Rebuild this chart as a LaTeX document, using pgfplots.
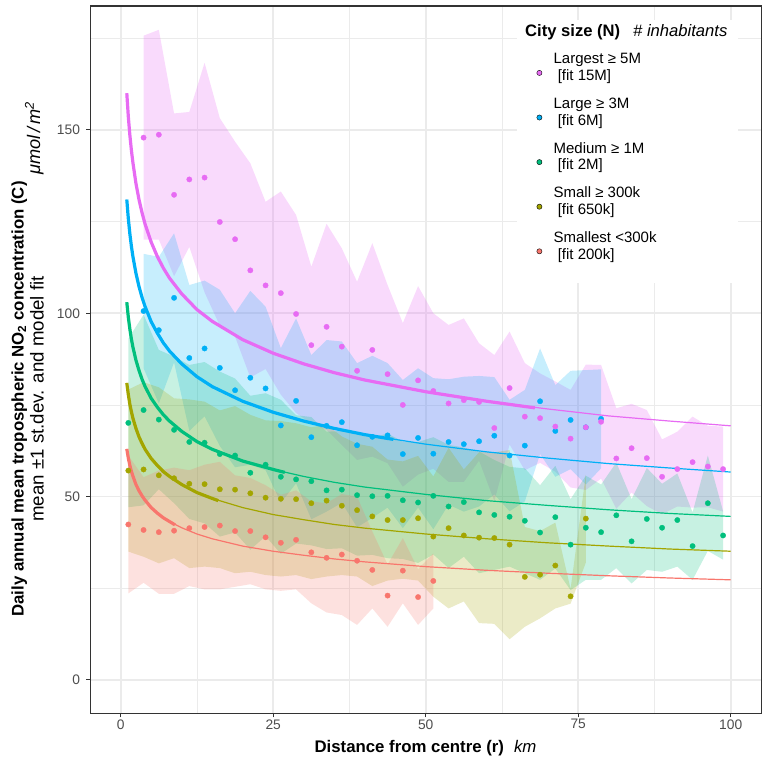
\documentclass[border=0pt]{standalone}
\usepackage{fontspec}
\setmainfont{Liberation Sans}
\usepackage{pgfplots}
\pgfplotsset{compat=1.18}
\usepackage{pgfplotstable}
\usepgfplotslibrary{fillbetween}

\definecolor{cLargest}{HTML}{E76BF3}
\definecolor{cLarge}{HTML}{00B0F6}
\definecolor{cMedium}{HTML}{00BF7D}
\definecolor{cSmall}{HTML}{A3A500}
\definecolor{cSmallest}{HTML}{F8766D}
\definecolor{gridc}{HTML}{EBEBEB}
\definecolor{framec}{HTML}{333333}
\definecolor{ticktext}{HTML}{4D4D4D}

% binned means (m) and standard deviations (s) by distance from centre
\pgfplotstableread{
x m s
3.75 147.9 27.8
6.25 148.7 28.6
8.75 132.3 22.2
11.25 136.5 18.4
13.75 137.0 31.3
16.25 124.9 28.3
18.75 120.2 26.6
21.25 111.7 29.2
23.75 107.6 22.8
26.25 105.5 27.7
28.75 99.8 27.0
31.25 91.3 21.4
33.75 96.3 28.1
36.25 90.9 26.8
38.75 84.3 24.3
41.25 90.0 29.1
43.75 83.4 24.3
46.25 75.0 22.3
48.75 81.7 25.7
51.25 78.8 21.2
53.75 75.4 21.4
56.25 76.3 22.3
58.75 75.8 16.0
61.25 68.7 19.9
63.75 79.6 15.4
66.25 71.8 14.6
68.75 71.4 12.2
71.25 69.1 12.3
73.75 65.8 13.3
76.25 68.9 17.1
78.75 70.4 15.5
81.25 60.4 13.7
83.75 63.2 12.1
86.25 60.5 13.1
88.75 55.4 10.2
91.25 57.5 10.2
93.75 59.4 12.4
96.25 58.2 11.1
98.75 57.5 11.6
}\tLargest

\pgfplotstableread{
x m s
3.75 100.6 15.6
6.25 95.4 20.0
8.75 104.2 17.6
11.25 87.8 19.9
13.75 90.4 18.5
16.25 85.1 21.3
18.75 79.0 21.0
21.25 82.4 23.7
23.75 79.5 22.3
26.25 69.4 21.1
28.75 76.1 22.5
31.25 66.2 22.4
33.75 69.3 23.4
36.25 70.3 22.0
38.75 64.0 22.4
41.25 66.3 22.1
43.75 66.7 19.7
46.25 61.6 20.2
48.75 66.0 19.0
51.25 61.7 20.6
53.75 64.9 17.1
56.25 64.3 18.4
58.75 65.1 17.8
61.25 66.6 16.0
63.75 61.2 15.2
66.25 63.9 15.2
68.75 76.0 14.4
71.25 67.9 12.5
73.75 70.9 13.4
76.25 68.9 15.6
78.75 71.2 13.5
}\tLarge

\pgfplotstableread{
x m s
1.25 70.1 23.0
3.75 73.6 26.0
6.25 71.0 19.0
8.75 68.2 20.0
11.25 64.9 21.0
13.75 64.7 22.0
16.25 61.6 22.5
18.75 61.2 21.0
21.25 56.5 21.0
23.75 58.7 19.5
26.25 55.4 21.0
28.75 54.7 17.5
31.25 54.2 17.5
33.75 51.7 16.0
36.25 51.9 16.0
38.75 50.4 16.5
41.25 50.1 16.0
43.75 50.2 17.0
46.25 49.0 16.0
48.75 48.4 16.5
51.25 50.2 16.0
53.75 47.3 16.8
56.25 48.5 14.9
58.75 45.7 16.6
61.25 45.0 15.0
63.75 44.5 13.6
66.25 43.4 14.3
68.75 40.2 12.9
71.25 44.4 14.0
73.75 36.9 12.4
76.25 41.5 14.2
78.75 40.3 13.0
81.25 44.9 14.4
83.75 37.8 11.5
86.25 43.9 13.9
88.75 41.5 12.0
91.25 43.6 12.7
93.75 36.5 9.2
96.25 48.2 13.0
98.75 39.4 6.6
}\tMedium

\pgfplotstableread{
x m s
1.25 57.1 22.1
3.75 57.4 23.8
6.25 55.8 24.0
8.75 55.0 21.8
11.25 53.5 23.0
13.75 53.4 22.5
16.25 52.0 21.5
18.75 51.9 22.8
21.25 50.9 21.4
23.75 49.7 21.1
26.25 49.4 21.2
28.75 49.3 20.7
31.25 48.2 20.7
33.75 48.9 20.7
36.25 47.5 18.9
38.75 46.3 18.1
41.25 44.6 19.0
43.75 43.6 16.5
46.25 43.6 16.0
48.75 44.1 17.0
51.25 39.1 16.4
53.75 41.4 21.9
56.25 39.4 18.0
58.75 38.8 23.3
61.25 38.7 23.4
63.75 36.9 25.8
66.25 28.1 13.6
68.75 28.7 11.9
71.25 31.2 11.7
73.75 22.8 2.0
76.25 44.0 12.0
}\tSmall

\pgfplotstableread{
x m s
1.25 42.4 18.8
3.75 40.9 14.4
6.25 40.3 16.8
8.75 40.7 17.2
11.25 41.4 15.8
13.75 41.7 17.0
16.25 42.1 17.4
18.75 40.6 15.2
21.25 40.6 14.5
23.75 38.9 14.2
26.25 37.4 13.1
28.75 38.2 13.5
31.25 34.8 13.9
33.75 33.3 14.9
36.25 34.2 16.5
38.75 32.5 17.5
41.25 30.0 10.5
43.75 23.0 8.5
46.25 29.8 8.9
48.75 22.6 7.6
51.25 27.0 7.5
}\tSmallest

\newcommand{\entry}[2]{\raisebox{0pt}[7.5bp][25.5bp]{\begin{tabular}[t]{@{}l@{}}#1\\\hspace*{4.2bp}#2\end{tabular}}}
\newcommand{\dotkey}[1]{\addlegendimage{legend image code/.code={\path[fill=#1] (0bp,0bp) circle[radius=2.6bp];}}}

\begin{document}
\begin{tikzpicture}
\begin{axis}[
  at={(90.2bp,49.7bp)}, anchor=south west,
  width=671bp, height=707.3bp, scale only axis,
  xmin=-5, xmax=105, ymin=-9.1, ymax=183.8,
  xtick={0,25,50,75,100}, ytick={0,50,100,150},
  minor xtick={12.5,37.5,62.5,87.5}, minor ytick={25,75,125,175},
  grid=both,
  major grid style={color=gridc, line width=1.6bp},
  minor grid style={color=gridc, line width=0.8bp},
  axis line style={color=framec, line width=1.1bp},
  tick align=outside, tick pos=left,
  major tick length=4bp, minor tick length=0pt,
  major tick style={color=framec, line width=1.1bp},
  /pgf/number format/assume math mode=true,
  tick label style={font=\fontsize{13.8bp}{16bp}\selectfont, text=ticktext},
  yticklabel style={anchor=east, inner sep=0pt, xshift=-6bp},
  xticklabel style={anchor=north, inner sep=0pt, yshift=-2bp},
  legend cell align=left,
  legend style={draw=none, fill=none, inner sep=0pt,
    at={(axis description cs:0.6650,0.9290)}, anchor=north west,
    font=\fontsize{15bp}{16.7bp}\selectfont,
    nodes={inner sep=0pt, text depth=, text height=},
    column sep=11.4bp, row sep=11.6bp},
  line join=round,
]
% ribbons: mean +/- 1 st.dev.
\addplot[draw=none, name path=LgU, forget plot] table[x=x, y expr=\thisrow{m}+\thisrow{s}] {\tLargest};
\addplot[draw=none, name path=LgL, forget plot] table[x=x, y expr=\thisrow{m}-\thisrow{s}] {\tLargest};
\addplot[fill=cLargest, fill opacity=0.25, draw=none, forget plot] fill between[of=LgU and LgL];
\addplot[draw=none, name path=LaU, forget plot] table[x=x, y expr=\thisrow{m}+\thisrow{s}] {\tLarge};
\addplot[draw=none, name path=LaL, forget plot] table[x=x, y expr=\thisrow{m}-\thisrow{s}] {\tLarge};
\addplot[fill=cLarge, fill opacity=0.22, draw=none, forget plot] fill between[of=LaU and LaL];
\addplot[draw=none, name path=MeU, forget plot] table[x=x, y expr=\thisrow{m}+\thisrow{s}] {\tMedium};
\addplot[draw=none, name path=MeL, forget plot] table[x=x, y expr=\thisrow{m}-\thisrow{s}] {\tMedium};
\addplot[fill=cMedium, fill opacity=0.22, draw=none, forget plot] fill between[of=MeU and MeL];
\addplot[draw=none, name path=SmU, forget plot] table[x=x, y expr=\thisrow{m}+\thisrow{s}] {\tSmall};
\addplot[draw=none, name path=SmL, forget plot] table[x=x, y expr=\thisrow{m}-\thisrow{s}] {\tSmall};
\addplot[fill=cSmall, fill opacity=0.22, draw=none, forget plot] fill between[of=SmU and SmL];
\addplot[draw=none, name path=StU, forget plot] table[x=x, y expr=\thisrow{m}+\thisrow{s}] {\tSmallest};
\addplot[draw=none, name path=StL, forget plot] table[x=x, y expr=\thisrow{m}-\thisrow{s}] {\tSmallest};
\addplot[fill=cSmallest, fill opacity=0.22, draw=none, forget plot] fill between[of=StU and StL];

% binned means
\addplot[cSmallest, only marks, mark=*, mark size=2.7bp, mark options={fill=cSmallest, draw=cSmallest, line width=0.3bp}, forget plot] table[x=x, y=m] {\tSmallest};
\addplot[cSmall, only marks, mark=*, mark size=2.7bp, mark options={fill=cSmall, draw=cSmall, line width=0.3bp}, forget plot] table[x=x, y=m] {\tSmall};
\addplot[cMedium, only marks, mark=*, mark size=2.7bp, mark options={fill=cMedium, draw=cMedium, line width=0.3bp}, forget plot] table[x=x, y=m] {\tMedium};
\addplot[cLarge, only marks, mark=*, mark size=2.7bp, mark options={fill=cLarge, draw=cLarge, line width=0.3bp}, forget plot] table[x=x, y=m] {\tLarge};
\addplot[cLargest, only marks, mark=*, mark size=2.7bp, mark options={fill=cLargest, draw=cLargest, line width=0.3bp}, forget plot] table[x=x, y=m] {\tLargest};

% model fits (thin: full range, thick: within city radius)
\addplot[cLargest, line width=1.2bp, forget plot] coordinates {(1,160)(1.25,153.6)(1.5,148.6)(1.75,144.5)(2,141.1)(2.5,135.4)(3,131.0)(3.5,127.4)(4,124.3)(5,119.4)(6,115.5)(7,112.3)(8,109.6)(10,105.3)(12.5,101.0)(15,97.8)(20,92.8)(25,89.1)(30,86.2)(35,83.8)(40,81.8)(50,78.6)(60,76.0)(70,73.9)(80,72.0)(90,70.6)(100,69.3)};
\addplot[cLargest, line width=3.2bp, forget plot] coordinates {(1,160)(1.25,153.6)(1.5,148.6)(1.75,144.5)(2,141.1)(2.5,135.4)(3,131.0)(3.5,127.4)(4,124.3)(5,119.4)(6,115.5)(7,112.3)(8,109.6)(10,105.3)(12.5,101.0)(15,97.8)(20,92.8)(25,89.1)(30,86.2)(35,83.8)(40,81.8)(50,78.6)(60,76.0)(67.9,74.2)};
\addplot[cLarge, line width=1.2bp, forget plot] coordinates {(1,131)(1.25,125.8)(1.5,121.7)(1.75,118.3)(2,115.5)(2.5,110.9)(3,107.3)(3.5,104.3)(4,101.8)(5,97.7)(6,94.6)(7,91.9)(8,89.7)(10,86.2)(12.5,82.7)(15,80.0)(20,76.0)(25,73.0)(30,70.6)(35,68.6)(40,66.9)(50,64.3)(60,62.2)(70,60.5)(80,59.0)(90,57.8)(100,56.7)};
\addplot[cLarge, line width=3.2bp, forget plot] coordinates {(1,131)(1.25,125.8)(1.5,121.7)(1.75,118.3)(2,115.5)(2.5,110.9)(3,107.3)(3.5,104.3)(4,101.8)(5,97.7)(6,94.6)(7,91.9)(8,89.7)(10,86.2)(12.5,82.7)(15,80.0)(20,76.0)(25,73.0)(30,70.6)(35,68.6)(40,66.9)(44.7,65.6)};
\addplot[cMedium, line width=1.2bp, forget plot] coordinates {(1,103)(1.25,98.9)(1.5,95.7)(1.75,93.0)(2,90.8)(2.5,87.2)(3,84.4)(3.5,82.0)(4,80.0)(5,76.8)(6,74.4)(7,72.3)(8,70.6)(10,67.8)(12.5,65.0)(15,62.9)(20,59.7)(25,57.4)(30,55.5)(35,53.9)(40,52.6)(50,50.6)(60,48.9)(70,47.6)(80,46.4)(90,45.4)(100,44.6)};
\addplot[cMedium, line width=3.2bp, forget plot] coordinates {(1,103)(1.25,98.9)(1.5,95.7)(1.75,93.0)(2,90.8)(2.5,87.2)(3,84.4)(3.5,82.0)(4,80.0)(5,76.8)(6,74.4)(7,72.3)(8,70.6)(10,67.8)(12.5,65.0)(15,62.9)(20,59.7)(25,57.4)(26.9,56.6)};
\addplot[cSmall, line width=1.2bp, forget plot] coordinates {(1,81)(1.25,77.8)(1.5,75.2)(1.75,73.2)(2,71.4)(2.5,68.6)(3,66.3)(3.5,64.5)(4,62.9)(5,60.4)(6,58.5)(7,56.8)(8,55.5)(10,53.3)(12.5,51.1)(15,49.5)(20,47.0)(25,45.1)(30,43.7)(35,42.4)(40,41.4)(50,39.8)(60,38.5)(70,37.4)(80,36.5)(90,35.7)(100,35.1)};
\addplot[cSmall, line width=3.2bp, forget plot] coordinates {(1,81)(1.25,77.8)(1.5,75.2)(1.75,73.2)(2,71.4)(2.5,68.6)(3,66.3)(3.5,64.5)(4,62.9)(5,60.4)(6,58.5)(7,56.8)(8,55.5)(10,53.3)(12.5,51.1)(15,49.5)(16,48.9)};
\addplot[cSmallest, line width=1.2bp, forget plot] coordinates {(1,63)(1.25,60.5)(1.5,58.5)(1.75,56.9)(2,55.6)(2.5,53.3)(3,51.6)(3.5,50.2)(4,49.0)(5,47.0)(6,45.5)(7,44.2)(8,43.2)(10,41.5)(12.5,39.8)(15,38.5)(20,36.5)(25,35.1)(30,34.0)(35,33.0)(40,32.2)(50,30.9)(60,29.9)(70,29.1)(80,28.4)(90,27.8)(100,27.3)};
\addplot[cSmallest, line width=3.2bp, forget plot] coordinates {(1,63)(1.25,60.5)(1.5,58.5)(1.75,56.9)(2,55.6)(2.5,53.3)(3,51.6)(3.5,50.2)(4,49.0)(5,47.0)(6,45.5)(7,44.2)(8,43.2)(8.9,42.3)};

% legend panel
\fill[white] (axis description cs:0.6356,0.6084) rectangle (axis description cs:0.9659,0.9802);
\dotkey{cLargest}
\addlegendentry{\entry{Largest ≥ 5M}{[fit 15M]}}
\dotkey{cLarge}
\addlegendentry{\entry{Large ≥ 3M}{[fit 6M]}}
\dotkey{cMedium}
\addlegendentry{\entry{Medium ≥ 1M}{[fit 2M]}}
\dotkey{cSmall}
\addlegendentry{\entry{Small ≥ 300k}{[fit 650k]}}
\dotkey{cSmallest}
\addlegendentry{\entry{Smallest <300k}{[fit 200k]}}
\end{axis}

% legend title
\node[anchor=base west, inner sep=0pt, font=\fontsize{16.6bp}{19bp}\selectfont] at (525bp,726bp)
  {\textbf{City size (N)}\hspace{13bp}\textit{\# inhabitants}};

% axis titles
\node[anchor=base, inner sep=0pt, font=\fontsize{16.8bp}{19bp}\selectfont] at (425.5bp,11bp)
  {\textbf{Distance from centre (r)}\hspace{10bp}\textit{km}};
\node[anchor=base west, rotate=90, inner sep=0pt, font=\fontsize{16.8bp}{19bp}\selectfont] at (23.5bp,146bp)
  {\textbf{Daily annual mean tropospheric NO\textsubscript{2} concentration (C)}};
\node[anchor=base west, rotate=90, inner sep=0pt, font=\fontsize{18.2bp}{21bp}\selectfont] at (40bp,588bp)
  {\textit{μmol\,/\,m\textsuperscript{2}}};
\node[anchor=base, rotate=90, inner sep=0pt, font=\fontsize{18.7bp}{21bp}\selectfont] at (43.5bp,364bp)
  {mean ±1 st.dev. and model fit};

% page frame
\pgfresetboundingbox
\path[use as bounding box] (0bp,0bp) rectangle (768bp,763bp);
\end{tikzpicture}
\end{document}
